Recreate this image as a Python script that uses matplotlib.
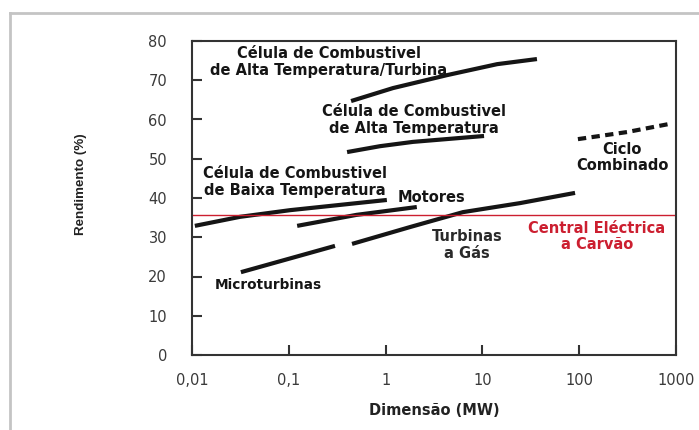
import matplotlib
matplotlib.use("Agg")
import matplotlib.pyplot as plt
from matplotlib.lines import Line2D

# Rendimento vs dimensão das tecnologias de geração (MW, %)
alta_turbina_mw = [0.44, 1.19, 4.3, 14.2, 36.6]
alta_turbina_ef = [64.7, 68.0, 71.3, 74.1, 75.4]

alta_temp_mw = [0.40, 0.875, 1.92, 10.4]
alta_temp_ef = [51.7, 53.2, 54.3, 55.8]

baixa_temp_mw = [0.0107, 0.0313, 0.103, 1.03]
baixa_temp_ef = [32.9, 35.2, 36.9, 39.5]

motores_mw = [0.122, 0.50, 2.1]
motores_ef = [32.9, 35.7, 37.7]

micro_mw = [0.032, 0.30]
micro_ef = [21.1, 27.8]

turbinas_mw = [0.45, 1.79, 6.3, 24.5, 90.6]
turbinas_ef = [28.3, 32.6, 36.4, 38.7, 41.3]

ciclo_mw = [97, 312, 867]
ciclo_ef = [55.0, 56.8, 58.9]

carvao_ef = 35.6

x_ticks = [0.01, 0.1, 1, 10, 100, 1000]
x_labels = ["0,01", "0,1", "1", "10", "100", "1000"]
y_ticks = [0, 10, 20, 30, 40, 50, 60, 70, 80]

INK = "#151515"
RED = "#cc1f30"

fig = plt.figure(figsize=(6.99, 4.30), dpi=100)
ax = fig.add_axes([192 / 699, 1 - 355 / 430, 484 / 699, 314 / 430])

# moldura cinzenta da página
fig.add_artist(Line2D([10 / 699, 1], [1 - 13 / 430] * 2, color="#c4c4c4", lw=2))
fig.add_artist(Line2D([10 / 699] * 2, [0, 1 - 13 / 430], color="#c4c4c4", lw=2))

lw = 3.0
for xs, ys in [(alta_turbina_mw, alta_turbina_ef), (alta_temp_mw, alta_temp_ef),
               (baixa_temp_mw, baixa_temp_ef), (motores_mw, motores_ef),
               (micro_mw, micro_ef), (turbinas_mw, turbinas_ef)]:
    ax.plot(xs, ys, color=INK, lw=lw, solid_capstyle="butt")
ax.plot(ciclo_mw, ciclo_ef, color=INK, lw=lw, linestyle=(0, (2.0, 1.3)),
        dash_capstyle="butt")
ax.axhline(carvao_ef, color=RED, lw=1.0)

ax.set_xscale("log")
ax.set_xlim(0.01, 1000)
ax.set_ylim(0, 80)
ax.set_xticks(x_ticks)
ax.set_xticklabels(x_labels)
ax.xaxis.set_minor_locator(matplotlib.ticker.NullLocator())
ax.set_yticks(y_ticks)

ax.tick_params(axis="both", direction="in", length=7, width=1.5, color="#333333",
               labelsize=10.5, labelcolor="#3a3a3a")
ax.tick_params(axis="y", pad=18)
ax.tick_params(axis="x", pad=13)
for s in ax.spines.values():
    s.set_color("#333333")
    s.set_linewidth(1.5)

ax.set_xlabel("Dimensão (MW)", fontsize=10.5, fontweight="bold", color="#222222",
              labelpad=11)
ax.set_ylabel("Rendimento (%)", fontsize=9.6, fontweight="bold", color="#222222",
              family="Liberation Sans")
ax.yaxis.set_label_coords(-(192 - 87) / 484, (355 - 184) / 314)

txt = dict(ha="center", va="center", fontweight="bold", color=INK, fontsize=10.5,
           linespacing=1.15)
ax.text(0.26, 74.6, "Célula de Combustivel\nde Alta Temperatura/Turbina", **txt)
ax.text(1.96, 59.9, "Célula de Combustivel\nde Alta Temperatura", **txt)
ax.text(0.116, 44.1, "Célula de Combustivel\nde Baixa Temperatura", **txt)
ax.text(3.0, 40.0, "Motores", **txt)
ax.text(6.93, 28.0, "Turbinas\na Gás", **{**txt, "color": "#2a2a2a"})
ax.text(277, 50.3, "Ciclo\nCombinado", **txt)
ax.text(0.061, 17.8, "Microturbinas", **{**txt, "fontsize": 9.8})
ax.text(152.8, 30.2, "Central Eléctrica\na Carvão", **{**txt, "color": RED})

fig.savefig("out.png", dpi=100)
